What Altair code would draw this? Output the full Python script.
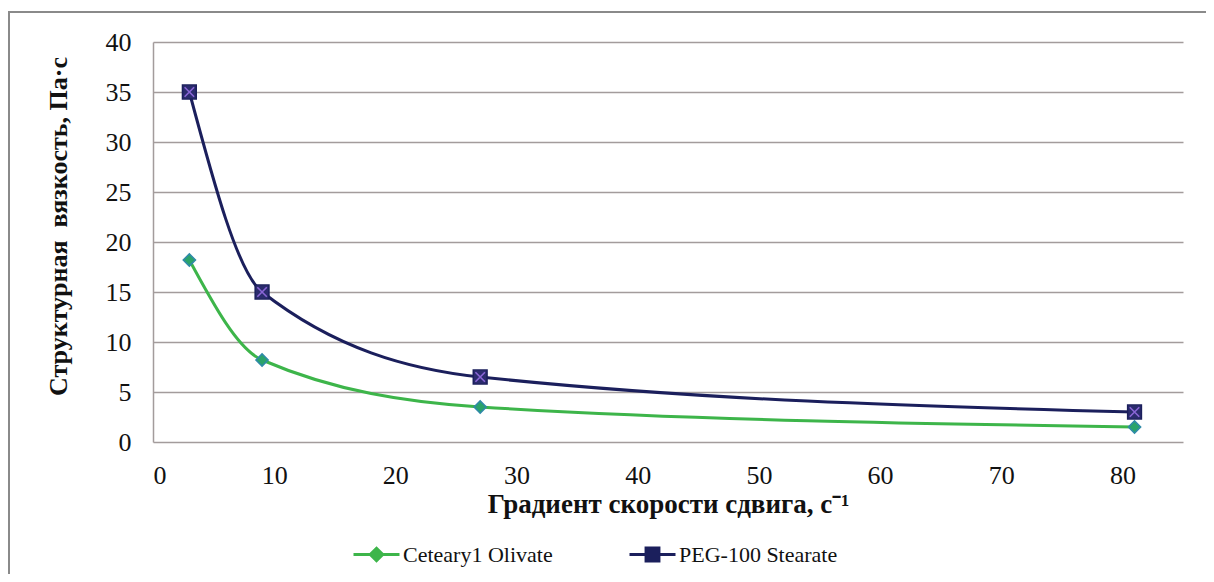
import altair as alt
import pandas as pd

# ---- data ----
shear = [3, 9, 27, 81]
olivate = [18.2, 8.2, 3.5, 1.5]
peg = [35.0, 15.0, 6.5, 3.0]
series_names = ["Ceteary1 Olivate", "PEG-100 Stearate"]
x_ticks = [0, 10, 20, 30, 40, 50, 60, 70, 80]
y_ticks = [0, 5, 10, 15, 20, 25, 30, 35, 40]

line_colors = ["#3db54a", "#1b1f5c"]
marker_fill = ["#2aa36a", "#2b2b6e"]
marker_stroke = ["#2f8aa8", "#1b1f5c"]
# legend glyphs: short line with a solid marker (nested outlines fill it)
diamond_glyph = ("M-1,0H1M0,-0.27L0.27,0L0,0.27L-0.27,0Z"
                 "M0,-0.17L0.17,0L0,0.17L-0.17,0ZM0,-0.07L0.07,0L0,0.07L-0.07,0Z")
square_glyph = ("M-1,0H1M-0.28,-0.28H0.28V0.28H-0.28Z"
                "M-0.17,-0.17H0.17V0.17H-0.17ZM-0.06,-0.06H0.06V0.06H-0.06Z")

rows = []
for s, vals in zip(series_names, [olivate, peg]):
    for xv, yv in zip(shear, vals):
        rows.append({"x": xv, "y": yv, "series": s})
df = pd.DataFrame(rows)

FONT = "Liberation Serif"

x_enc = alt.X("x:Q", scale=alt.Scale(domain=[0, 85], nice=False),
              axis=alt.Axis(values=x_ticks, title="Градиент скорости сдвига, с\u207b\u00b9",
                            grid=False, ticks=False, labelPadding=20, titlePadding=3,
                            labelFontSize=26, titleFontSize=27))
y_enc = alt.Y("y:Q", scale=alt.Scale(domain=[0, 40], nice=False),
              axis=alt.Axis(values=y_ticks,
                            title="Структурная\u00a0 вязкость, Па·с",
                            grid=True, ticks=False, labelPadding=22, titlePadding=34,
                            titleY=184,
                            labelFontSize=26, titleFontSize=26))


def make_legend(x_pos, glyph, col):
    return alt.Legend(
        title=None, orient="none", direction="horizontal",
        legendX=x_pos, legendY=488, symbolType=glyph, symbolSize=2116,
        symbolStrokeWidth=3, symbolFillColor=col, symbolStrokeColor=col,
        symbolOpacity=1, labelOffset=2,
        labelFont=FONT, labelFontSize=22, labelColor="#111111",
    )


border = alt.Chart(df).mark_rect(filled=False, stroke="#8a8a8a", strokeWidth=2).encode(
    x=alt.value(-144), x2=alt.value(1100), y=alt.value(-30), y2=alt.value(700)
)

line_olivate = alt.Chart(df).transform_filter(
    alt.datum.series == series_names[0]
).mark_line(interpolate="monotone", strokeWidth=3).encode(
    x=x_enc, y=y_enc,
    color=alt.Color("series:N", scale=alt.Scale(domain=[series_names[0]], range=[line_colors[0]]),
                    legend=make_legend(199, diamond_glyph, line_colors[0])),
)

line_peg = alt.Chart(df).transform_filter(
    alt.datum.series == series_names[1]
).mark_line(interpolate="monotone", strokeWidth=3).encode(
    x="x:Q", y="y:Q",
    stroke=alt.Stroke("series:N", scale=alt.Scale(domain=[series_names[1]], range=[line_colors[1]]),
                      legend=make_legend(475, square_glyph, line_colors[1])),
)

diamonds = alt.Chart(df).transform_filter(
    alt.datum.series == series_names[0]
).mark_point(filled=True, shape="diamond", size=150, opacity=1, strokeWidth=1.5,
             fill=marker_fill[0], stroke=marker_stroke[0]).encode(x="x:Q", y="y:Q")

squares = alt.Chart(df).transform_filter(
    alt.datum.series == series_names[1]
).mark_point(filled=True, shape="square", size=190, opacity=1, strokeWidth=1.5,
             fill=marker_fill[1], stroke=marker_stroke[1]).encode(x="x:Q", y="y:Q")

crosses = alt.Chart(df).transform_filter(
    alt.datum.series == series_names[1]
).mark_point(filled=False, shape="M-1,-1L1,1M-1,1L1,-1", size=90, color="#8a66d6",
             strokeWidth=1.6, opacity=1).encode(x="x:Q", y="y:Q")

chart = alt.layer(border, line_olivate, line_peg, diamonds, squares, crosses).properties(
    width=1030, height=400,
    padding={"left": 145, "top": 34, "right": 23, "bottom": 132},
    autosize=alt.AutoSizeParams(type="none"),
    background="white",
).configure(font=FONT).configure_axis(
    labelFont=FONT, titleFont=FONT, labelColor="#111111", titleColor="#111111",
    titleFontWeight="bold", domainColor="#a39c9c", domainWidth=1.5,
    gridColor="#a39c9c", gridWidth=1.5, gridOpacity=1,
).configure_axisX(domain=False).configure_view(stroke=None)

chart.save("out.html", embed_options={"renderer": "svg", "actions": False})
